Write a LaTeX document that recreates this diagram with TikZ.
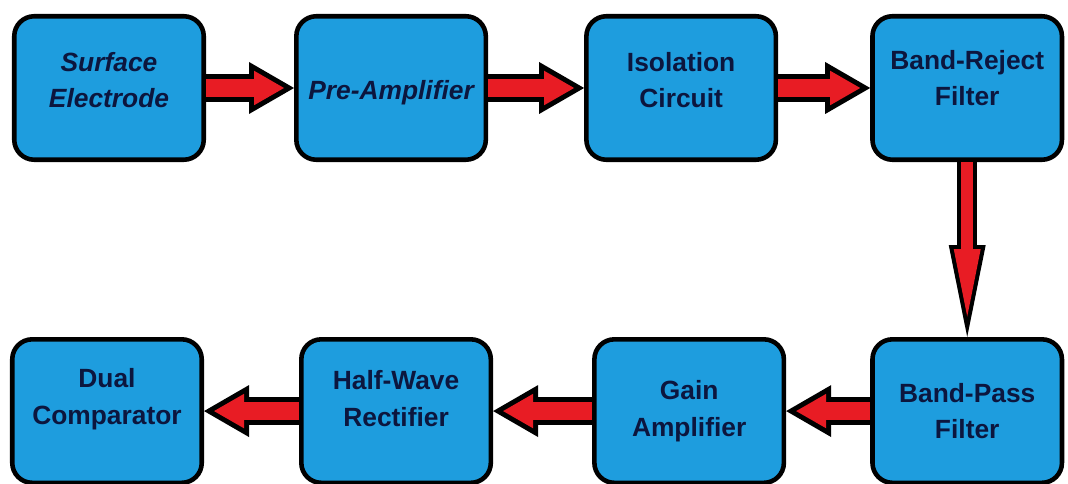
\documentclass[tikz,border=0pt]{standalone}
\usepackage{fontspec}
\setmainfont{Liberation Sans}
\usetikzlibrary{arrows.meta,positioning}

\definecolor{boxblue}{RGB}{30,157,222}
\definecolor{arrowred}{RGB}{232,28,36}
\definecolor{textnavy}{RGB}{12,22,62}

\tikzset{
  stage/.style={draw=black, line width=2.6pt, fill=boxblue, rounded corners=0.4cm,
    minimum width=3.79cm, minimum height=2.87cm, align=center, text=textnavy,
    font=\fontsize{15}{21}\selectfont\bfseries},
  slanted/.style={font=\fontsize{15}{21}\selectfont\bfseries\itshape},
  lift/.style={text depth=#1},
  flowout/.style={draw=black, line width=0.56cm,
    -{Triangle[length=0.9cm,width=1.04cm,line width=0pt]}},
  flowin/.style={draw=arrowred, line width=0.36cm, shorten >=0.2cm,
    -{Triangle[length=0.6cm,width=0.69cm,line width=0pt]}},
  dropout/.style={draw=black, line width=0.4cm,
    -{Triangle[length=1.84cm,width=0.74cm,line width=0pt]}},
  dropin/.style={draw=arrowred, line width=0.24cm, shorten >=0.41cm,
    -{Triangle[length=1.35cm,width=0.54cm,line width=0pt]}}
}

\begin{document}
\begin{tikzpicture}
  \useasboundingbox (0,0) rectangle (21.36,-9.68);
  % top row, left to right
  \node[stage, slanted, lift=0.32cm] (se) at (2.18,-1.76) {Surface\\Electrode};
  \node[stage, slanted, text height=0.58cm, right=1.76cm of se] (pre) {Pre-Amplifier};
  \node[stage, lift=0.32cm, right=1.92cm of pre] (iso) {Isolation\\Circuit};
  \node[stage, lift=0.4cm, right=1.84cm of iso] (brf) {Band-Reject\\Filter};
  % bottom row, right to left
  \node[stage, below=3.5cm of brf] (bpf) {Band-Pass\\Filter};
  \node[stage, lift=0.1cm, left=1.68cm of bpf] (gain) {Gain\\Amplifier};
  \node[stage, lift=0.5cm, left=1.98cm of gain] (hw) {Half-Wave\\Rectifier};
  \node[stage, lift=0.6cm, left=1.9cm of hw] (dc) {Dual\\Comparator};

  \foreach \a/\b in {se/pre,pre/iso,iso/brf,bpf/gain,gain/hw,hw/dc} {
    \draw[flowout] (\a) -- (\b);
    \draw[flowin] (\a) -- (\b);
  }
  \draw[dropout] (brf) -- (bpf);
  \draw[dropin] (brf) -- (bpf);
\end{tikzpicture}
\end{document}
